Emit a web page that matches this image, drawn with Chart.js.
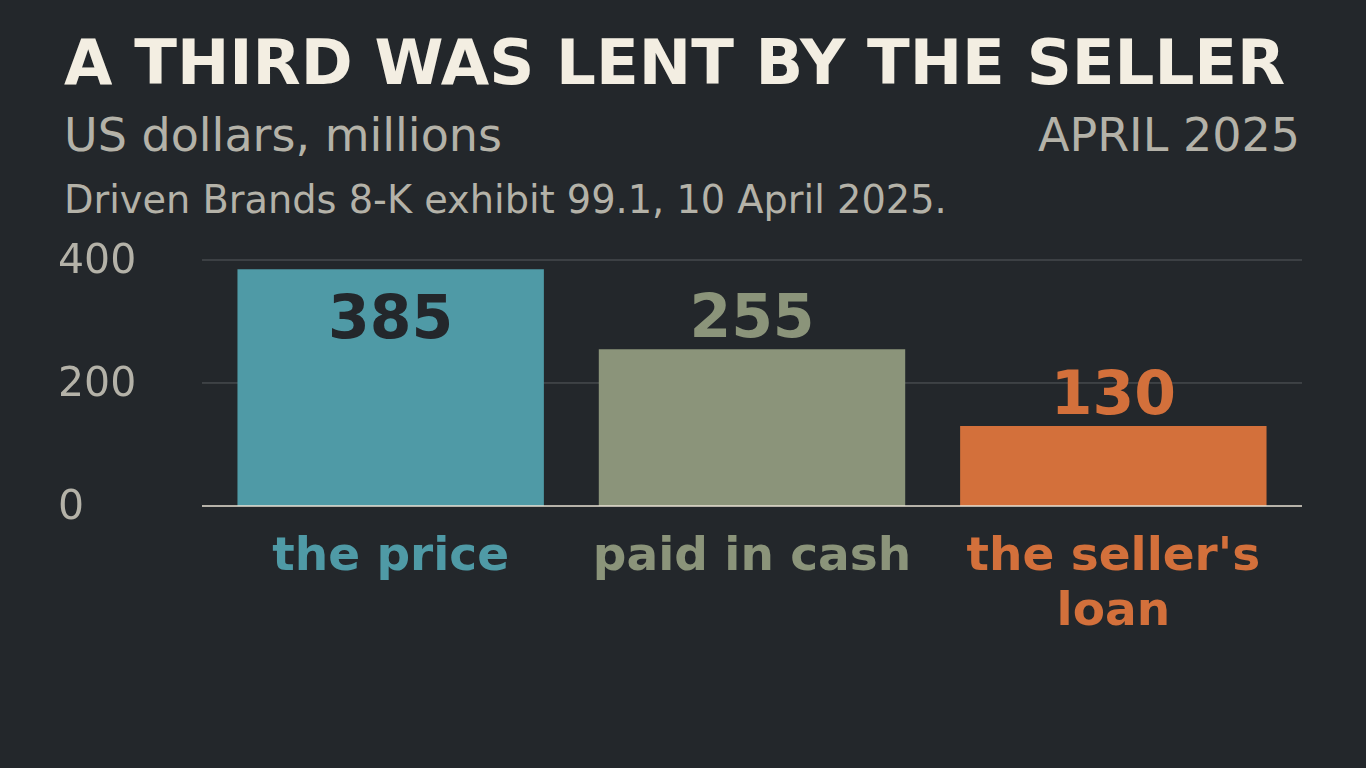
<!DOCTYPE html>
<html>
<head>
<meta charset="utf-8">
<script src="https://cdn.jsdelivr.net/npm/chart.js@4"></script>
<style>
html,body{margin:0;padding:0;background:#23272b;width:1366px;height:768px;overflow:hidden;font-family:'DejaVu Sans',sans-serif;}
.txt{position:absolute;white-space:nowrap;line-height:1;}
#titulo{left:64px;top:32px;font-size:62.6px;font-weight:bold;color:#f3eee2;}
#sub{left:64px;top:112px;font-size:46px;color:#b4b2a8;}
#data{right:66px;top:112px;font-size:46px;color:#b4b2a8;}
#fonte{left:64px;top:181px;font-size:38.3px;color:#b4b2a8;}
#wrap{position:absolute;left:0;top:0;width:1366px;height:768px;}
</style>
</head>
<body>
<div class="txt" id="titulo">A THIRD WAS LENT BY THE SELLER</div>
<div class="txt" id="sub">US dollars, millions</div>
<div class="txt" id="data">APRIL 2025</div>
<div class="txt" id="fonte">Driven Brands 8-K exhibit 99.1, 10 April 2025.</div>
<div id="wrap"><canvas id="grafico"></canvas></div>
<script>
const categorias=[['the price'],['paid in cash'],["the seller's",'loan']];
const valores=[385,255,130];
const cores=['#4f9aa6','#8b947a','#d3703b'];
const ticksY=[0,200,400];

// gridlines (a bit wider than the bars area) + y labels
const gradePlugin={
  id:'grade',
  beforeDatasetsDraw(chart){
    const ctx=chart.ctx,y=chart.scales.y,a=chart.chartArea;
    ctx.save();
    ticksY.forEach(function(t){
      const py=y.getPixelForValue(t);
      if(t!==0){
        ctx.strokeStyle='#575b5f';ctx.lineWidth=1;
        ctx.beginPath();ctx.moveTo(a.left-8,py);ctx.lineTo(a.right+8,py);ctx.stroke();
      }
      ctx.fillStyle='#b4b2a8';ctx.font='41px "DejaVu Sans"';
      ctx.textAlign='left';ctx.textBaseline='middle';
      ctx.fillText(String(t),58,py+2);
    });
    ctx.restore();
  },
  afterDatasetsDraw(chart){
    const ctx=chart.ctx,y=chart.scales.y,a=chart.chartArea;
    const meta=chart.getDatasetMeta(0);
    ctx.save();
    const py0=y.getPixelForValue(0);
    ctx.strokeStyle='#e8e2d4';ctx.lineWidth=1.5;
    ctx.beginPath();ctx.moveTo(a.left-8,py0);ctx.lineTo(a.right+8,py0);ctx.stroke();
    ctx.font='bold 60px "DejaVu Sans"';ctx.textAlign='center';ctx.textBaseline='alphabetic';
    meta.data.forEach(function(bar,i){
      const dentro=valores[i]/400>0.9;
      ctx.fillStyle=dentro?'#23272b':cores[i];
      ctx.fillText(String(valores[i]),bar.x,dentro?bar.y+69:bar.y-12);
    });
    ctx.restore();
  }
};

new Chart(document.getElementById('grafico'),{
  type:'bar',
  data:{labels:categorias,datasets:[{data:valores,backgroundColor:cores,borderWidth:0,barPercentage:0.848,categoryPercentage:1}]},
  options:{
    responsive:true,maintainAspectRatio:false,animation:false,
    layout:{padding:{left:210,right:72,top:260,bottom:103}},
    plugins:{legend:{display:false},tooltip:{enabled:false}},
    scales:{
      x:{grid:{display:false,drawTicks:false},border:{display:false},
        ticks:{padding:25,color:cores,font:{family:'DejaVu Sans',size:47,weight:'bold',lineHeight:1.16},maxRotation:0,autoSkip:false}},
      y:{display:false,min:0,max:400}
    }
  },
  plugins:[gradePlugin]
});
</script>
</body>
</html>
